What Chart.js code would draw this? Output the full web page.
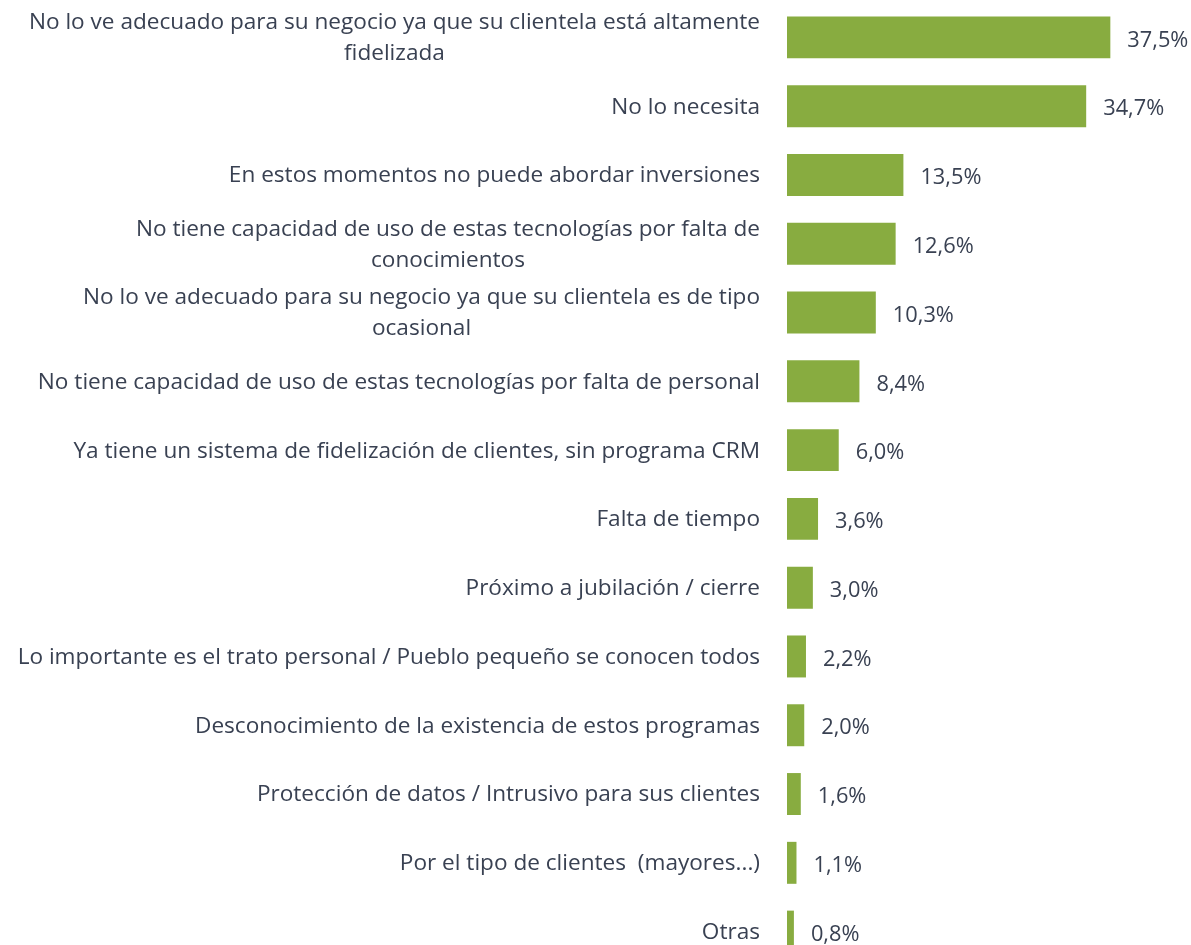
<!DOCTYPE html>
<html>
<head>
<meta charset="utf-8">
<script src="https://cdn.jsdelivr.net/npm/chart.js@4.4.0/dist/chart.umd.min.js"></script>
<style>
  html, body { margin: 0; padding: 0; background: #fff; overflow: hidden; }
  #wrap { position: relative; width: 1191px; height: 966px; }
</style>
</head>
<body>
<div id="wrap"><canvas id="motivos_chart"></canvas></div>
<script>
var categorias = [
  ["No lo ve adecuado para su negocio ya que su clientela está altamente", "fidelizada"],
  ["No lo necesita"],
  ["En estos momentos no puede abordar inversiones"],
  ["No tiene capacidad de uso de estas tecnologías por falta de", "conocimientos"],
  ["No lo ve adecuado para su negocio ya que su clientela es de tipo", "ocasional"],
  ["No tiene capacidad de uso de estas tecnologías por falta de personal"],
  ["Ya tiene un sistema de fidelización de clientes, sin programa CRM"],
  ["Falta de tiempo"],
  ["Próximo a jubilación / cierre"],
  ["Lo importante es el trato personal / Pueblo pequeño se conocen todos"],
  ["Desconocimiento de la existencia de estos programas"],
  ["Protección de datos / Intrusivo para sus clientes"],
  ["Por el tipo de clientes  (mayores...)"],
  ["Otras"]
];
var porcentajes = [37.5, 34.7, 13.5, 12.6, 10.3, 8.4, 6.0, 3.6, 3.0, 2.2, 2.0, 1.6, 1.1, 0.8];

var verde = "#88ac40";
var texto = "#394152";
var fuente = "'Open Sans', 'Noto Sans', sans-serif";
var tamFuente = 22.6;
var tamValor = 21.8;

// etiquetas a la izquierda (centradas entre lineas, alineadas a la derecha)
var etiquetasPlugin = {
  id: 'etiquetas',
  afterDraw: function(chart){
    var ctx = chart.ctx;
    var yScale = chart.scales.y;
    ctx.save();
    ctx.font = tamFuente + "px " + fuente;
    ctx.fillStyle = texto;
    ctx.textBaseline = "middle";
    ctx.textAlign = "center";
    var derecha = chart.chartArea.left - 27;
    var alto = 31;
    categorias.forEach(function(lineas, i){
      var y = yScale.getPixelForTick(i);
      var ancho = 0;
      lineas.forEach(function(l){ ancho = Math.max(ancho, ctx.measureText(l).width); });
      var cx = derecha - ancho / 2;
      var y0 = y - (lineas.length - 1) * alto / 2 + 1;
      lineas.forEach(function(l, k){ ctx.fillText(l, cx, y0 + k * alto); });
    });
    // valores
    ctx.font = tamValor + "px " + fuente;
    ctx.textAlign = "left";
    var meta = chart.getDatasetMeta(0);
    meta.data.forEach(function(bar, i){
      ctx.fillText(porcentajes[i].toFixed(1).replace('.', ',') + "%", bar.x + 17, bar.y + 3);
    });
    ctx.restore();
  }
};

var dataSet = {
  labels: categorias,
  datasets: [
    {
      label: "Motivos",
      backgroundColor: verde,
      borderWidth: 0,
      barPercentage: 0.61,
      categoryPercentage: 1,
      data: porcentajes
    }
  ]
};

var myBarChart = new Chart(document.getElementById('motivos_chart').getContext('2d'), {
  type: 'bar',
  data: dataSet,
  plugins: [etiquetasPlugin],
  options: {
    indexAxis: 'y',
    responsive: true,
    maintainAspectRatio: false,
    animation: false,
    layout: { padding: { top: 3, right: 16, bottom: 0, left: 0 } },
    plugins: { legend: { display: false }, tooltip: { enabled: false } },
    scales: {
      x: { display: false, min: 0, max: 45 },
      y: {
        grid: { display: false },
        border: { display: false },
        ticks: { display: false },
        afterFit: function(scale){ scale.width = 787; }
      }
    }
  }
});
</script>
</body>
</html>
